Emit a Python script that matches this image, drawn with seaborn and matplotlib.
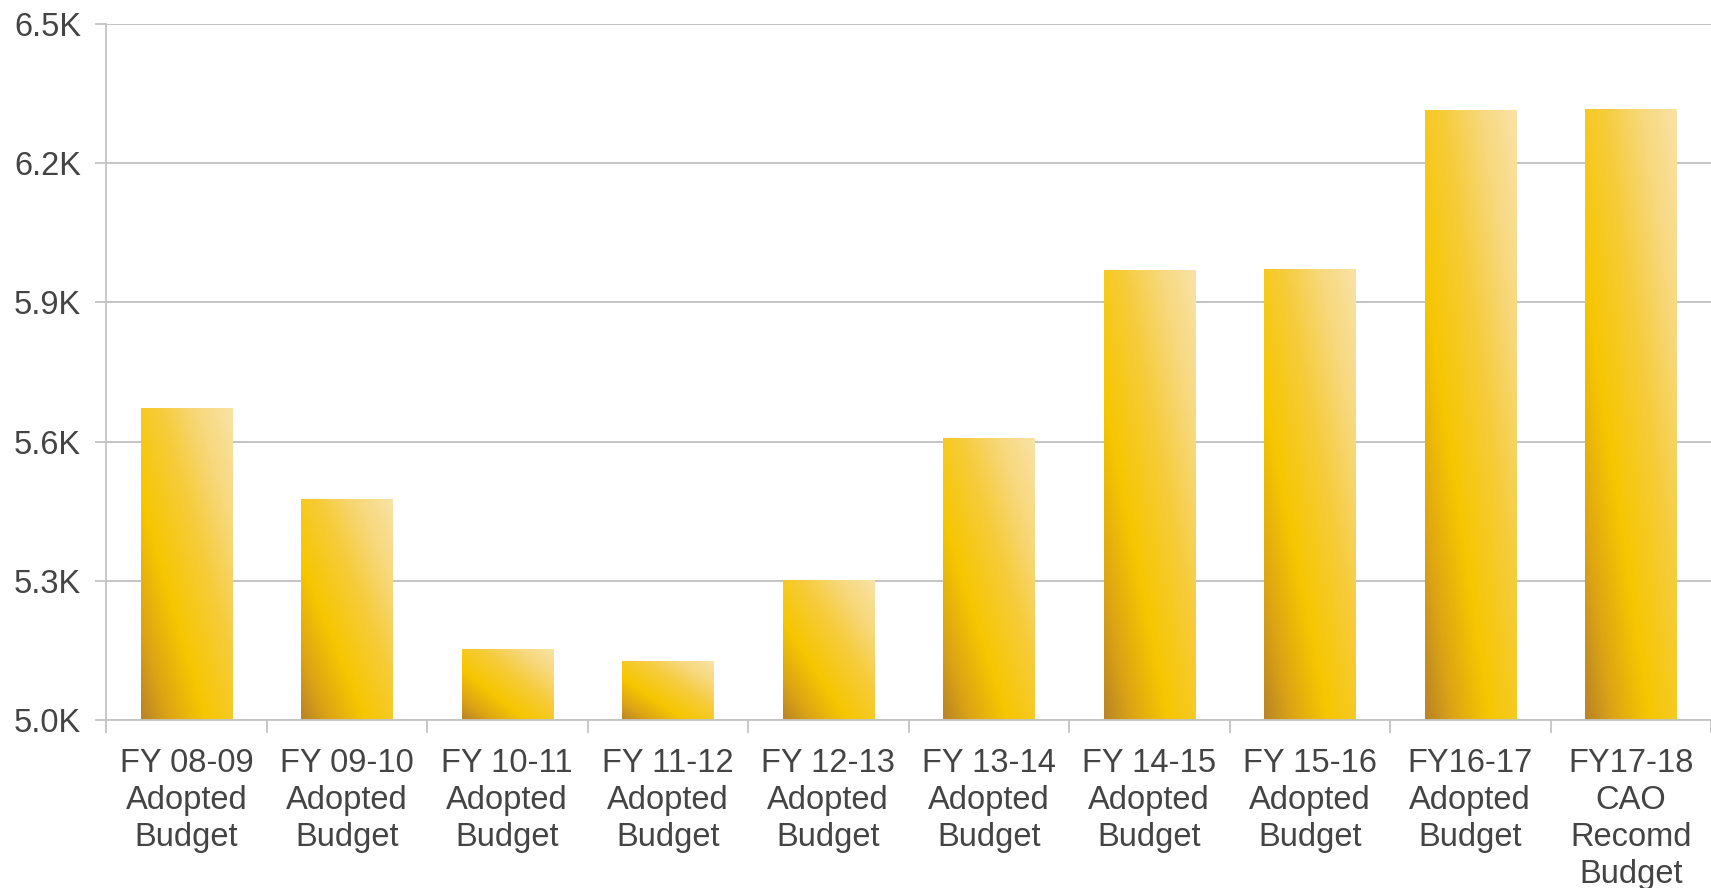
import numpy as np
import pandas as pd
import matplotlib
matplotlib.use("Agg")
import matplotlib.pyplot as plt
import seaborn as sns
from matplotlib.colors import LinearSegmentedColormap
from matplotlib.ticker import FuncFormatter

# data (thousands)
labels = ["FY 08-09\nAdopted\nBudget", "FY 09-10\nAdopted\nBudget", "FY 10-11\nAdopted\nBudget",
          "FY 11-12\nAdopted\nBudget", "FY 12-13\nAdopted\nBudget", "FY 13-14\nAdopted\nBudget",
          "FY 14-15\nAdopted\nBudget", "FY 15-16\nAdopted\nBudget", "FY16-17\nAdopted\nBudget",
          "FY17-18\nCAO\nRecomd\nBudget"]
values = [5.672, 5.477, 5.153, 5.127, 5.301, 5.609, 5.969, 5.973, 6.314, 6.317]
yticks = [5.0, 5.3, 5.6, 5.9, 6.2, 6.5]

df = pd.DataFrame({"label": labels, "value": values})

sns.set_theme(style="white")
plt.rcParams['font.family'] = ['Liberation Sans', 'DejaVu Sans']

fig = plt.figure(figsize=(17.11, 8.88), dpi=100)
ax = fig.add_axes([0.062, 0.189, 0.938, 0.784])

sns.barplot(data=df, x="label", y="value", color="#f5c400", width=0.57, ax=ax,
            saturation=1)

# diagonal gold gradient clipped to each bar
gold = LinearSegmentedColormap.from_list(
    "gold", [(0.0, "#b98426"), (0.15, "#dca414"), (0.35, "#f6c600"),
             (0.6, "#f6cc3a"), (0.8, "#f7d87a"), (1.0, "#f9e2a6")])
u, v = np.meshgrid(np.linspace(0, 1, 60), np.linspace(1, 0, 200))
grad = u * 0.5 + v * 0.5
for p in ax.patches:
    x0, y0 = p.get_x(), 5.0
    x1, y1 = p.get_x() + p.get_width(), p.get_y() + p.get_height()
    p.set_facecolor("none")
    p.set_edgecolor("none")
    im = ax.imshow(grad, cmap=gold, extent=[x0, x1, y0, y1], aspect="auto",
                   interpolation="bicubic", zorder=2, vmin=0, vmax=1)
    im.set_clip_path(p)

ax.set_autoscale_on(False)
ax.set_ylim(5.0, 6.5)
ax.set_xlim(-0.5, len(labels) - 0.5)

ax.set_yticks(yticks)
ax.yaxis.set_major_formatter(FuncFormatter(lambda val, pos: f"{val:.1f}K"))
ax.grid(axis="y", color="#bfbfbf", linewidth=1.3)
ax.set_axisbelow(True)

for s in ["top", "right"]:
    ax.spines[s].set_visible(False)
ax.spines["left"].set_color("#c4c4c4")
ax.spines["bottom"].set_color("#c4c4c4")
ax.spines["left"].set_linewidth(1.3)
ax.spines["bottom"].set_linewidth(1.3)

ax.set_xticks(np.arange(len(labels)))
ax.set_xticklabels(labels, linespacing=1.25)
ax.set_xticks(np.arange(len(labels) + 1) - 0.5, minor=True)
ax.tick_params(axis="x", which="major", length=0, pad=20, labelsize=23.5, labelcolor="#444444")
ax.tick_params(axis="x", which="minor", length=9, color="#c4c4c4", width=1.3, direction="out", bottom=True)
ax.tick_params(axis="y", length=8, color="#c4c4c4", width=1.3, left=True, pad=10,
               labelsize=23.5, labelcolor="#444444")
ax.set_xlabel("")
ax.set_ylabel("")

fig.savefig("out.png", dpi=100)
